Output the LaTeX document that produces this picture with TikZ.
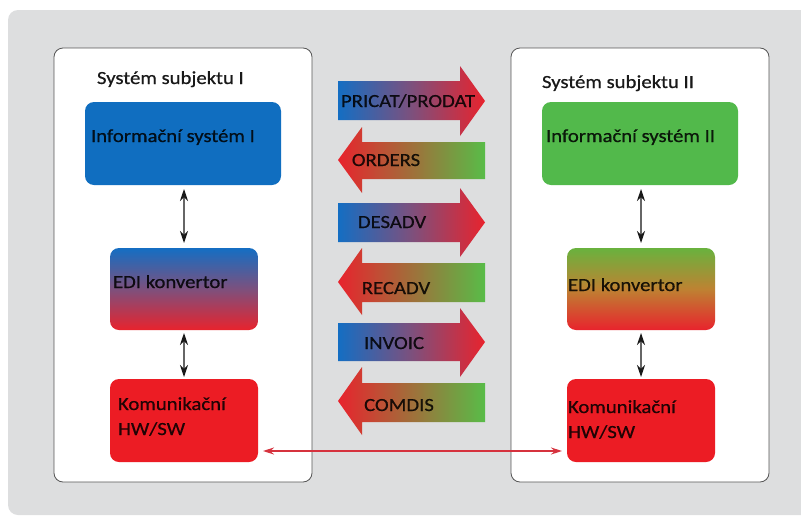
\documentclass[tikz,border=0pt]{standalone}
\usepackage{fontspec}
\setmainfont{Carlito}[FakeStretch=1.12,FakeBold=0.6]
\usetikzlibrary{arrows.meta}

\definecolor{panelgray}{RGB}{221,222,223}
\definecolor{frameline}{RGB}{85,85,85}
\definecolor{isblue}{RGB}{16,110,192}
\definecolor{isgreen}{RGB}{82,185,75}
\definecolor{comred}{RGB}{236,28,36}
\definecolor{shblue}{RGB}{20,110,195}
\definecolor{shpurple}{RGB}{125,80,125}
\definecolor{shred}{RGB}{232,35,45}
\definecolor{shorange}{RGB}{218,112,42}
\definecolor{shgreen}{RGB}{88,188,72}
\definecolor{edigreen}{RGB}{105,178,62}
\definecolor{ediorange}{RGB}{190,130,50}
\definecolor{linkred}{RGB}{214,50,62}

\begin{document}
\begin{tikzpicture}[x=1pt,y=-1pt,
  every node/.style={inner sep=0pt,outer sep=0pt},
  subjectbox/.style={draw=frameline,line width=0.8pt,fill=white,rounded corners=9pt},
  unit/.style={rounded corners=9pt,minimum width=#1},
  boxtext/.style={font=\fontsize{18.5}{25}\selectfont,text=black,text opacity=0.85,align=left},
  titletext/.style={font=\fontsize{18.5}{22}\selectfont,text=black!90},
  msgtext/.style={font=\fontsize{18.5}{22}\selectfont,text=black,text opacity=0.85},
  biarrow/.style={draw=black!60,line width=1.1pt,{Stealth[length=12pt,width=8pt,color=black!90]}-{Stealth[length=12pt,width=8pt,color=black!90]}},
  linkarrow/.style={draw=linkred,line width=1.4pt,{Stealth[length=11pt,width=7pt]}-{Stealth[length=11pt,width=7pt]}}
]
\useasboundingbox (0,0) rectangle (801,517);

% grey panel behind everything
\fill[panelgray,rounded corners=10pt] (8,10) rectangle (830,515);

% the two subject systems
\node[subjectbox,minimum width=258pt,minimum height=434pt] (sys1) at (183,265) {};
\node[subjectbox,minimum width=258pt,minimum height=434pt] (sys2) at (640,265) {};
\node[titletext,anchor=base west] (sys1t) at (97,84) {Systém subjektu I};
\node[titletext,anchor=base west] (sys2t) at (542,88) {Systém subjektu II};

% left side units
\node[unit=196pt,minimum height=83pt,fill=isblue] (is1) at (183,143.5) {};
\node[unit=148pt,minimum height=82pt,top color=shblue,bottom color=shred,middle color=shpurple] (edi1) at (184,289) {};
\node[unit=148pt,minimum height=83pt,fill=comred] (kom1) at (184,420.5) {};

\node[boxtext,anchor=base west] (is1t) at (91,142) {Informační systém I};
\node[boxtext,anchor=base west] (edi1t) at (113,288) {EDI konvertor};
\node[boxtext,anchor=base west] (kom1t) at (118,435) {Komunikační\\HW/SW};

% right side units
\node[unit=196pt,minimum height=83pt,fill=isgreen] (is2) at (640,143.5) {};
\node[unit=148pt,minimum height=82pt,top color=edigreen,bottom color=shred,middle color=ediorange] (edi2) at (641,289) {};
\node[unit=148pt,minimum height=83pt,fill=comred] (kom2) at (641,420.5) {};

\node[boxtext,anchor=base west] (is2t) at (546,142) {Informační systém II};
\node[boxtext,anchor=base west] (edi2t) at (568,291) {EDI konvertor};
\node[boxtext,anchor=base west] (kom2t) at (568,438) {Komunikační\\HW/SW};

% links inside each system
\draw[biarrow,shorten <=4pt,shorten >=5pt] (is1.south -| edi1.north) -- (edi1.north);
\draw[biarrow,shorten <=3pt,shorten >=2pt] (edi1.south) -- (kom1.north);
\draw[biarrow,shorten <=4pt,shorten >=5pt] (is2.south -| edi2.north) -- (edi2.north);
\draw[biarrow,shorten <=3pt,shorten >=2pt] (edi2.south) -- (kom2.north);

% communication link between the systems
\draw[linkarrow,shorten <=5pt,shorten >=5pt] ([yshift=-30.5pt]kom1.east) -- ([yshift=-30.5pt]kom2.west);

% message arrows: outgoing (to the right) and incoming (to the left)
\shade[left color=shblue,right color=shred,middle color=shpurple]
  (338,81) -- (460,81) -- (460,66) -- (485,101) -- (460,136) -- (460,120) -- (338,120) -- cycle;
\shade[left color=shred,middle color=shorange,right color=shgreen]
  (485,142) -- (362,142) -- (362,127) -- (338,160) -- (362,193) -- (362,179) -- (485,179) -- cycle;
\shade[left color=shblue,right color=shred,middle color=shpurple]
  (338,203) -- (460,203) -- (460,188) -- (485,222.5) -- (460,257) -- (460,242) -- (338,242) -- cycle;
\shade[left color=shred,middle color=shorange,right color=shgreen]
  (485,263) -- (362,263) -- (362,248) -- (338,282) -- (362,315) -- (362,302) -- (485,302) -- cycle;
\shade[left color=shblue,right color=shred,middle color=shpurple]
  (338,323) -- (460,323) -- (460,308) -- (485,342) -- (460,377) -- (460,361) -- (338,361) -- cycle;
\shade[left color=shred,middle color=shorange,right color=shgreen]
  (485,383) -- (362,383) -- (362,367) -- (338,401) -- (362,435) -- (362,422) -- (485,422) -- cycle;

\node[msgtext,anchor=base] (m1) at (408,107) {PRICAT/PRODAT};
\node[msgtext,anchor=base] (m2) at (386,166) {ORDERS};
\node[msgtext,anchor=base] (m3) at (392,228) {DESADV};
\node[msgtext,anchor=base] (m4) at (396,294) {RECADV};
\node[msgtext,anchor=base] (m5) at (394,349) {INVOIC};
\node[msgtext,anchor=base] (m6) at (399,411) {COMDIS};
\end{tikzpicture}
\end{document}
